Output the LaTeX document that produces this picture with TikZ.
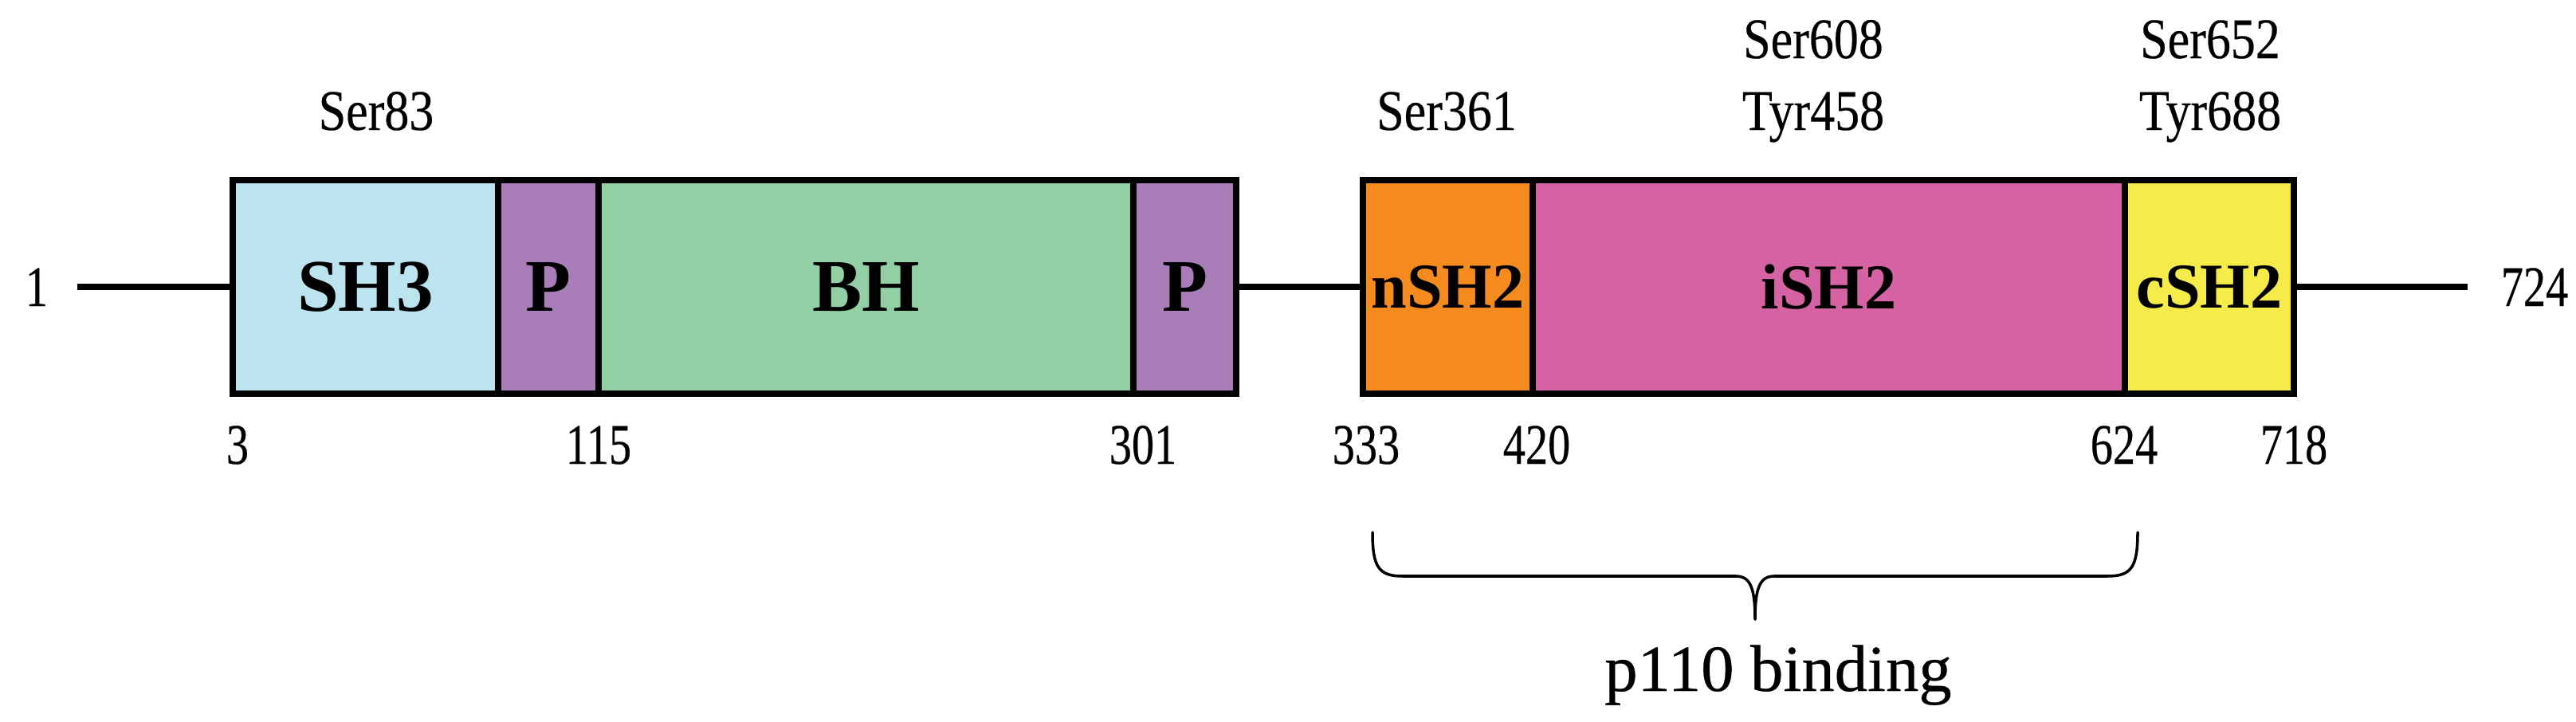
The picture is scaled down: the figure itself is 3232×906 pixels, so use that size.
\documentclass[tikz,border=0pt]{standalone}
\usepackage{fontspec}
\setmainfont{Liberation Serif}
\newfontfamily\serfont[FakeStretch=0.86,FakeBold=0.3]{Liberation Serif}
\newfontfamily\numfont[FakeStretch=0.78,FakeBold=0.3]{Liberation Serif}
\newfontfamily\captfont[FakeBold=0.4]{Liberation Serif}
\definecolor{csh3}{HTML}{BCE4EE}
\definecolor{cp}{HTML}{A87DB8}
\definecolor{cbh}{HTML}{93CFA5}
\definecolor{cnsh2}{HTML}{F58A1F}
\definecolor{cish2}{HTML}{D563A3}
\definecolor{ccsh2}{HTML}{F5EC4A}
\tikzset{
  dom/.style={draw=black, line width=2.13pt, minimum height=2.68cm, inner sep=0pt,
    font=\fontsize{26.5}{30}\selectfont\bfseries},
  domS/.style={dom, font=\fontsize{22.8}{26}\selectfont\bfseries},
  sitelbl/.style={anchor=base, inner sep=0pt, font=\serfont\fontsize{20.5}{24}\selectfont},
  numlbl/.style={anchor=base, inner sep=0pt, font=\numfont\fontsize{20.5}{24}\selectfont},
  chain/.style={line width=2.28pt},
  bracepath/.style={line width=1pt, line cap=round, line join=round}
}
\begin{document}
\begin{tikzpicture}[x=0.01cm, y=-0.01cm]
\useasboundingbox (0,0) rectangle (3232,906);
% domains
\node[dom, fill=csh3, minimum width=3.33cm] (sh3) at (458.5,360) {SH3};
\node[dom, fill=cp, minimum width=1.26cm] (p1) at (688,360) {P};
\node[dom, fill=cbh, minimum width=6.71cm] (bh) at (1086.5,360) {BH};
\node[dom, fill=cp, minimum width=1.29cm] (p2) at (1486.5,360) {P};
\node[domS, fill=cnsh2, minimum width=2.13cm] (nsh2) at (1816.5,360) {nSH2};
\node[domS, fill=cish2, minimum width=7.43cm] (ish2) at (2294.5,360) {iSH2};
\node[domS, fill=ccsh2, minimum width=2.12cm] (csh2) at (2772,360) {cSH2};
% chain
\coordinate (nstart) at (97,360);
\coordinate (cend) at (3096,360);
\draw[chain] (nstart) -- (sh3.west);
\draw[chain] (p2.east) -- (nsh2.west);
\draw[chain] (csh2.east) -- (cend);
% termini
\node[numlbl] (t1) at (46,384) {1};
\node[numlbl] (t724) at (3180,384) {724};
% boundary numbers
\node[numlbl] (b3) at (298,582) {3};
\node[numlbl] (b115) at (751,582) {115};
\node[numlbl] (b301) at (1434,582) {301};
\node[numlbl] (b333) at (1714,582) {333};
\node[numlbl] (b420) at (1928,582) {420};
\node[numlbl] (b624) at (2665,582) {624};
\node[numlbl] (b718) at (2878,582) {718};
% phosphosites
\node[sitelbl] (s83) at (472,163) {Ser83};
\node[sitelbl] (s361) at (1815,163) {Ser361};
\node[sitelbl] (s608) at (2275,73) {Ser608};
\node[sitelbl] (y458) at (2275,163) {Tyr458};
\node[sitelbl] (s652) at (2773,73) {Ser652};
\node[sitelbl] (y688) at (2773,163) {Tyr688};
% brace
\coordinate (brL) at (1722,668);
\coordinate (brT) at (2202,777);
\coordinate (brR) at (2682,668);
\draw[bracepath] (brL) .. controls (1722,712) and (1730,723) .. (1760,723)
  -- (2178,723) .. controls (2196,723) and (2202,738) .. (brT);
\draw[bracepath] (brR) .. controls (2682,712) and (2674,723) .. (2644,723)
  -- (2226,723) .. controls (2208,723) and (2202,738) .. (brT);
\node[anchor=base, inner sep=0pt, font=\captfont\fontsize{23.5}{27}\selectfont] (p110) at (2231,867) {p110 binding};
\end{tikzpicture}
\end{document}
